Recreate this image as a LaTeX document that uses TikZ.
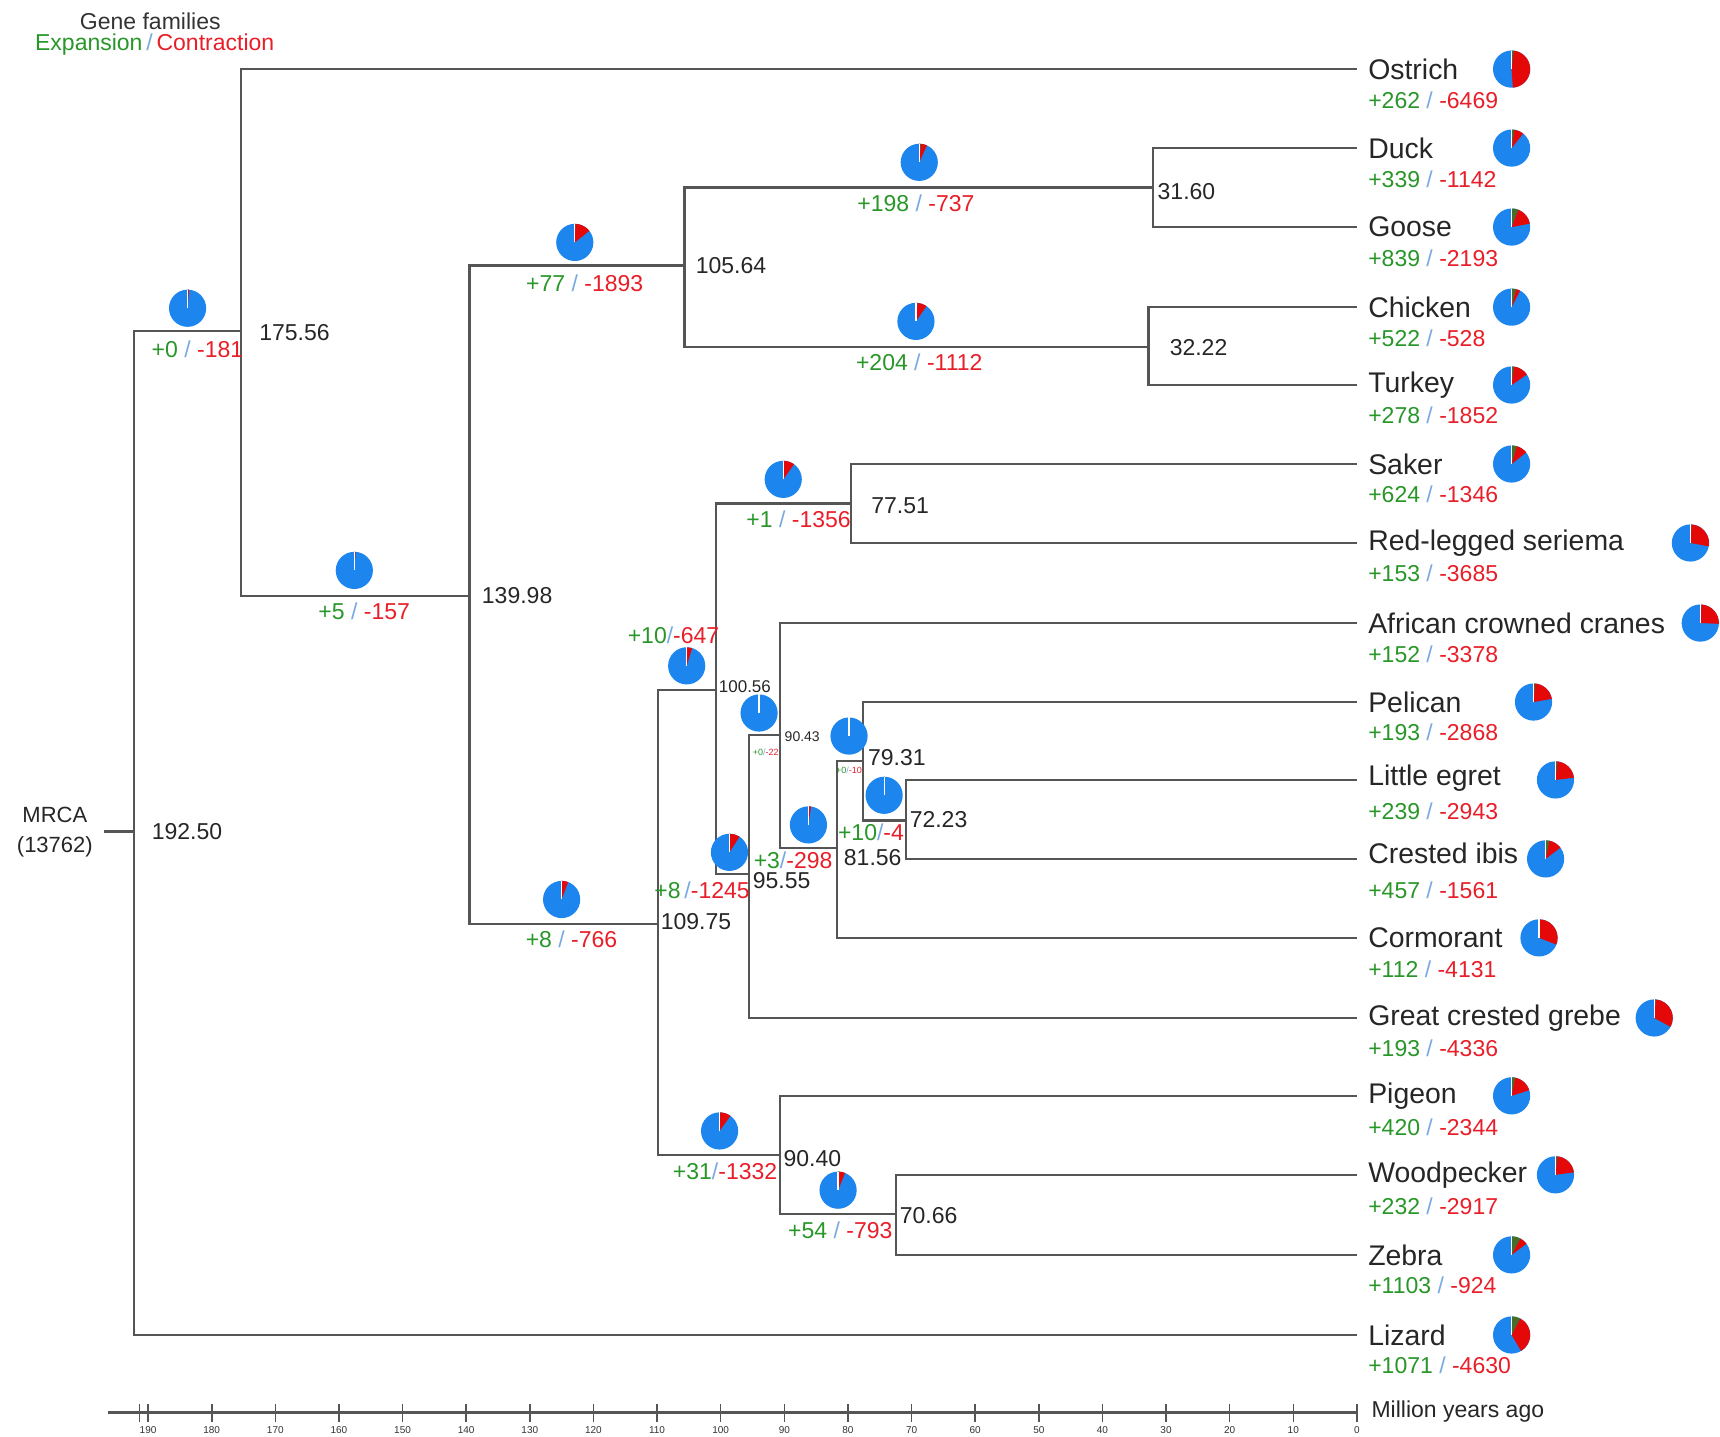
\documentclass[tikz,border=0pt]{standalone}
\usepackage{fontspec}
\setmainfont{Liberation Sans}
\definecolor{lineg}{RGB}{85,85,85}
\definecolor{tgreen}{RGB}{40,150,40}
\definecolor{tred}{RGB}{232,30,40}
\definecolor{tslash}{RGB}{120,170,225}
\definecolor{pieblue}{RGB}{28,134,238}
\definecolor{piered}{RGB}{228,8,8}
\definecolor{piegreen}{RGB}{70,110,40}
\newcommand\glab[2]{{\color{tgreen}+#1}\ {\color{tslash}/}\ {\color{tred}-#2}}
\newcommand\glabn[2]{{\color{tgreen}+#1}{\color{tslash}/}{\color{tred}-#2}}
\newcommand\mypie[4]{%
  \pgfmathsetmacro\pga{90-0.0261590*#3}%
  \pgfmathsetmacro\pgb{\pga-0.0261590*#4}%
  \fill[pieblue] (#1,#2) circle[radius=9.3pt];
  \fill[piegreen] (#1,#2) -- ++(90:9.3pt) arc[start angle=90,end angle=\pga,radius=9.3pt] -- cycle;
  \fill[piered] (#1,#2) -- ++(\pga:9.3pt) arc[start angle=\pga,end angle=\pgb,radius=9.3pt] -- cycle;
  \draw[white,line width=0.6pt] (#1,#2) -- ++(90:9.3pt);
}
% id, y, name, exp, con, piex, name y, count y
\newcommand\myleaf[8]{%
  \coordinate (#1) at (1237,#2);
  \node[leafname] (#1n) at (1247,#7) {#3};
  \node[cnt] (#1c) at (1247,#8) {\glab{#4}{#5}};
  \mypie{#6}{#2}{#4}{#5}
}
\begin{document}
\begin{tikzpicture}[x=0.54847pt,y=-0.54847pt,
  br/.style={draw=lineg,line width=1.1pt},
  leafname/.style={anchor=west,inner sep=0pt,font=\fontsize{14.2}{16}\selectfont,text=black!85},
  cnt/.style={anchor=west,inner sep=0pt,font=\fontsize{11.5}{13}\selectfont},
  icnt/.style={inner sep=0pt,font=\fontsize{11.5}{13}\selectfont},
  tcnt/.style={inner sep=0pt,font=\fontsize{4.5}{5}\selectfont},
  age/.style={anchor=west,inner sep=0pt,font=\fontsize{11.5}{13}\selectfont,text=black!85},
  sage/.style={anchor=west,inner sep=0pt,font=\fontsize{8.5}{10}\selectfont,text=black!85},
  tick/.style={inner sep=0pt,font=\fontsize{5}{6}\selectfont,text=black!80}]
\useasboundingbox (0,0) rectangle (1568,1310);

% header
\node[inner sep=0pt,font=\fontsize{11.5}{13}\selectfont,text=black!80] (hdr) at (137,19) {Gene families};
\node[inner sep=0pt,font=\fontsize{11.5}{13}\selectfont] (hdr2) at (141,41) {{\color{tgreen}Expansion}\,{\color{tslash}/}\,{\color{tred}Contraction}};

% internal nodes
\coordinate (r) at (122,758);
\coordinate (a) at (220,302);
\coordinate (b) at (428,543);
\coordinate (c) at (624,242);
\coordinate (d) at (1051,171);
\coordinate (e) at (1047,316);
\coordinate (f) at (600,842);
\coordinate (g) at (653,629);
\coordinate (h) at (776,459);
\coordinate (i) at (683,797);
\coordinate (j) at (711,670);
\coordinate (k) at (763,773);
\coordinate (l) at (787,694);
\coordinate (m) at (826,748);
\coordinate (n) at (711,1053);
\coordinate (o) at (817,1107);

% leaves
\myleaf{ostrich}{63}{Ostrich}{262}{6469}{1378}{63}{91}
\myleaf{duck}{135}{Duck}{339}{1142}{1378}{135}{163}
\myleaf{goose}{207}{Goose}{839}{2193}{1378}{207}{235}
\myleaf{chicken}{280}{Chicken}{522}{528}{1378}{280}{308}
\myleaf{turkey}{351}{Turkey}{278}{1852}{1378}{351}{379}
\myleaf{saker}{423}{Saker}{624}{1346}{1378}{423}{451}
\myleaf{seriema}{495}{Red-legged seriema}{153}{3685}{1541}{495}{523}
\myleaf{crane}{568}{African crowned cranes}{152}{3378}{1550}{568}{596}
\myleaf{pelican}{640}{Pelican}{193}{2868}{1398}{640}{668}
\myleaf{egret}{711}{Little egret}{239}{2943}{1418}{709}{740}
\myleaf{ibis}{783}{Crested ibis}{457}{1561}{1409}{778}{812}
\myleaf{cormorant}{855}{Cormorant}{112}{4131}{1403}{855}{884}
\myleaf{grebe}{928}{Great crested grebe}{193}{4336}{1508}{928}{956}
\myleaf{pigeon}{999}{Pigeon}{420}{2344}{1378}{999}{1028}
\myleaf{woodpecker}{1071}{Woodpecker}{232}{2917}{1418}{1071}{1100}
\myleaf{zebra}{1144}{Zebra}{1103}{924}{1378}{1144}{1172}
\myleaf{lizard}{1217}{Lizard}{1071}{4630}{1378}{1217}{1245}

% branches
\draw[br] (r) |- (a);
\draw[br] (r) |- (lizard);
\draw[br] (a) |- (ostrich);
\draw[br] (a) |- (b);
\draw[br] (b) |- (c);
\draw[br] (b) |- (f);
\draw[br] (c) |- (d);
\draw[br] (c) |- (e);
\draw[br] (d) |- (duck);
\draw[br] (d) |- (goose);
\draw[br] (e) |- (chicken);
\draw[br] (e) |- (turkey);
\draw[br] (f) |- (g);
\draw[br] (f) |- (n);
\draw[br] (g) |- (h);
\draw[br] (g) |- (i);
\draw[br] (h) |- (saker);
\draw[br] (h) |- (seriema);
\draw[br] (i) |- (j);
\draw[br] (i) |- (grebe);
\draw[br] (j) |- (crane);
\draw[br] (j) |- (k);
\draw[br] (k) |- (l);
\draw[br] (k) |- (cormorant);
\draw[br] (l) |- (pelican);
\draw[br] (l) |- (m);
\draw[br] (m) |- (egret);
\draw[br] (m) |- (ibis);
\draw[br] (n) |- (pigeon);
\draw[br] (n) |- (o);
\draw[br] (o) |- (woodpecker);
\draw[br] (o) |- (zebra);

% root label
\node[inner sep=0pt,align=center,font=\fontsize{11}{15}\selectfont,text=black!85] (mrca) at (50,759) {MRCA\\(13762)};
\coordinate (stub) at (95,758);
\draw[br] (stub) -- (r);

% node ages
\node[age] (t1) at (138,758) {192.50};
\node[age] (t2) at (236,303) {175.56};
\node[age] (t3) at (439,543) {139.98};
\node[age] (t4) at (634,242) {105.64};
\node[age] (t5) at (1055,175) {31.60};
\node[age] (t6) at (1066,317) {32.22};
\node[age] (t7) at (602,840) {109.75};
\node[sage] (t8) at (655,626) {100.56};
\node[age] (t9) at (794,461) {77.51};
\node[age] (t10) at (686,803) {95.55};
\node[inner sep=0pt,anchor=west,font=\fontsize{7}{8}\selectfont,text=black!85] (t11) at (715,672) {90.43};
\node[age] (t12) at (769,782) {81.56};
\node[age] (t13) at (791,691) {79.31};
\node[age] (t14) at (829,747) {72.23};
\node[age] (t15) at (714,1056) {90.40};
\node[age] (t16) at (820,1108) {70.66};

% internal pies and counts
\mypie{171}{281}{0}{181}
\node[icnt] (c1) at (180,318) {\glab{0}{181}};
\mypie{323}{520}{5}{157}
\node[icnt] (c2) at (332,557) {\glab{5}{157}};
\mypie{524}{221}{77}{1893}
\node[icnt] (c3) at (533,258) {\glab{77}{1893}};
\mypie{838}{148}{198}{737}
\node[icnt] (c4) at (835,185) {\glab{198}{737}};
\mypie{835}{293}{204}{1112}
\node[icnt] (c5) at (838,330) {\glab{204}{1112}};
\mypie{714}{437}{1}{1356}
\node[icnt] (c6) at (728,473) {\glab{1}{1356}};
\mypie{512}{820}{8}{766}
\node[icnt] (c7) at (521,856) {\glab{8}{766}};
\mypie{626}{607}{10}{647}
\node[icnt] (c8) at (614,579) {\glabn{10}{647}};
\mypie{665}{777}{8}{1245}
\node[icnt] (c9) at (640,812) {{\color{tgreen}+8}\,{\color{tslash}/}{\color{tred}-1245}};
\mypie{692}{650}{0}{22}
\node[tcnt] (c10) at (698,686) {\glabn{0}{22}};
\mypie{737}{752}{3}{298}
\node[icnt] (c11) at (723,784) {\glabn{3}{298}};
\mypie{774}{671}{0}{10}
\node[tcnt] (c12) at (774,702) {\glabn{0}{10}};
\mypie{806}{725}{10}{4}
\node[icnt] (c13) at (794,759) {\glabn{10}{4}};
\mypie{656}{1031}{31}{1332}
\node[icnt] (c14) at (661,1068) {\glabn{31}{1332}};
\mypie{764}{1085}{54}{793}
\node[icnt] (c15) at (766,1122) {\glab{54}{793}};

% time axis
\coordinate (ax0) at (98,1288);
\coordinate (ax1) at (1237,1288);
\draw[draw=lineg,line width=1.4pt] (ax0) -- (ax1);
\foreach \t in {0,10,...,190}{
  \draw[draw=lineg,line width=0.8pt] ({1237-5.8*\t},1280) -- ({1237-5.8*\t},1296);
  \node[tick] at ({1237-5.8*\t},1304) {\t};
}
\draw[draw=lineg,line width=0.8pt] (127,1280) -- (127,1296);
\node[inner sep=0pt,anchor=west,font=\fontsize{11.5}{13}\selectfont,text=black!85] (myl) at (1250,1287) {Million years ago};
\end{tikzpicture}
\end{document}
